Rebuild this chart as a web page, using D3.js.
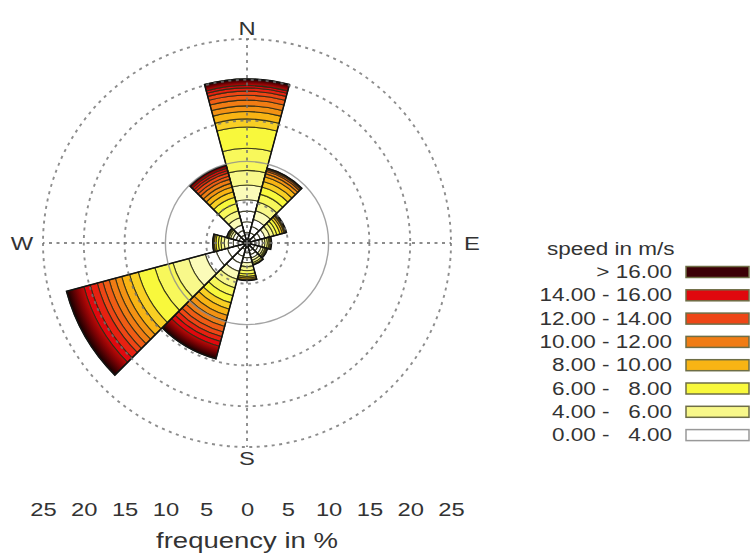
<!DOCTYPE html>
<html>
<head>
<meta charset="utf-8">
<script src="https://cdn.jsdelivr.net/npm/d3@7"></script>
<style>
body { margin: 0; background: #fff; }
text { font-family: "Liberation Sans", Arial, sans-serif; fill: #333; }
</style>
</head>
<body>
<svg id="rose" width="752" height="554"></svg>
<script>
// wind directions (sector centres, degrees) and 1 m/s speed bins
const directions = [0, 30, 60, 90, 120, 150, 180, 210, 240, 270, 300, 330];
const speedBins = ['0-1','1-2','2-3','3-4','4-5','5-6','6-7','7-8','8-9','9-10',
                   '10-11','11-12','12-13','13-14','14-15','15-16','>16'];
// legend class of each speed bin (0 = 0-4 m/s ... 7 = >16 m/s)
const binClass = [0,0,0,0,1,1,2,2,3,3,4,4,5,5,6,6,7];

// frequency in % per speed bin, one array per direction
const freq000 = [1.3,1.3,1.3,1.4,1.8,1.8,2.7,2.6,1.0,0.9,0.7,0.7,0.6,0.5,0.4,0.3,0.8];
const freq030 = [0.6,0.7,0.8,0.9,1.1,1.1,1.0,0.9,0.7,0.6,0.4,0.3,0.2,0.1,0.1,0,0];
const freq060 = [0.5,0.6,0.6,0.6,0.6,0.5,0.4,0.4,0.3,0.2,0.1,0.1,0.1,0,0,0,0];
const freq090 = [0.5,0.5,0.5,0.4,0.3,0.3,0.2,0.1,0.1,0.1,0,0,0,0,0,0,0];
const freq120 = [0.5,0.5,0.4,0.4,0.3,0.2,0.1,0.1,0.1,0,0,0,0,0,0,0,0];
const freq150 = [0.5,0.5,0.5,0.4,0.3,0.3,0.2,0.1,0,0,0,0,0,0,0,0,0];
const freq180 = [0.6,0.6,0.6,0.6,0.5,0.5,0.4,0.3,0.2,0.2,0.1,0,0,0,0,0,0];
const freq210 = [0.8,0.9,0.9,1.0,1.0,1.1,1.0,0.9,0.8,0.8,0.7,0.7,0.7,0.6,0.6,0.6,1.6];
const freq240 = [1.2,1.3,1.4,1.4,2.1,2.0,2.3,2.1,1.1,1.0,0.8,0.8,0.8,0.7,0.9,0.8,2.2];
const freq270 = [0.5,0.6,0.6,0.6,0.5,0.4,0.3,0.3,0.2,0.1,0.1,0,0,0,0,0,0];
const freq300 = [0.5,0.5,0.4,0.4,0.3,0.2,0.1,0.1,0.1,0,0,0,0,0,0,0,0];
const freq330 = [0.5,0.5,0.6,0.7,0.9,0.9,0.9,0.8,0.7,0.6,0.5,0.5,0.4,0.4,0.3,0.3,0.4];

const gridPercents = [5, 10, 15, 20, 25];
const freqTicks = [-25, -20, -15, -10, -5, 0, 5, 10, 15, 20, 25];
const compassLabels = ['N', 'E', 'S', 'W'];
const compassAngles = [0, 90, 180, 270];

// legend, top row first
const legendLabels = ['> 16.00', '14.00 - 16.00', '12.00 - 14.00', '10.00 - 12.00',
                      '\u20078.00 - 10.00', '\u20076.00 - \u20078.00', '\u20074.00 - \u20076.00',
                      '\u20070.00 - \u20074.00'];
// class colours, lowest speed first
const classColors = ['#ffffff', '#f8f88a', '#f8f83c', '#f8b414', '#f07c14', '#ee4616', '#e0080e', '#3c0006'];

const cx = 247, cy = 243;
const outerR = 204;
const sectorWidth = 30 * Math.PI / 180;
const textStretch = 'scale(1.25,1)';

const rScale = d3.scaleLinear().domain([0, 25]).range([0, outerR]);
const xScale = d3.scaleLinear().domain([-25, 25]).range([cx - outerR, cx + outerR]);

function binColor(j){
    const c = binClass[j];
    if (c === 0) return classColors[0];
    const firstOfClass = binClass.indexOf(c) === j;
    return firstOfClass ? d3.interpolateRgb(classColors[c - 1], classColors[c])(0.6) : classColors[c];
}

const svg = d3.select('#rose');
const defs = svg.append('defs');
const arc = d3.arc();

const rose = svg.append('g').attr('transform', 'translate(' + cx + ',' + cy + ')');

const sectorFreqs = [freq000, freq030, freq060, freq090, freq120, freq150,
                     freq180, freq210, freq240, freq270, freq300, freq330];

sectorFreqs.forEach(function(bins, i){
    const mid = directions[i] * Math.PI / 180;
    const a0 = mid - sectorWidth / 2, a1 = mid + sectorWidth / 2;
    let cum = 0;
    const rings = [];
    bins.forEach(function(f, j){
        if (f > 0) rings.push({bin: j, r0: cum, r1: cum + f});
        cum += f;
    });
    const total = cum;

    // radial shading of the > 16 m/s band
    const grad = defs.append('radialGradient')
        .attr('id', 'top_' + i)
        .attr('gradientUnits', 'userSpaceOnUse')
        .attr('cx', 0).attr('cy', 0).attr('r', rScale(total));
    const top = rings.find(d => d.bin === 16);
    const startOff = top ? top.r0 / total : 0.9;
    grad.append('stop').attr('offset', startOff).attr('stop-color', '#c00a08');
    grad.append('stop').attr('offset', startOff + (1 - startOff) * 0.45).attr('stop-color', '#7a0204');
    grad.append('stop').attr('offset', 1).attr('stop-color', '#140000');

    const g = rose.append('g').attr('class', 'sector');
    g.selectAll('.ring')
        .data(rings)
        .enter()
        .append('path')
        .attr('class', 'ring')
        .attr('d', d => arc({innerRadius: rScale(d.r0), outerRadius: rScale(d.r1), startAngle: a0, endAngle: a1}))
        .attr('fill', d => d.bin === 16 ? 'url(#top_' + i + ')' : binColor(d.bin))
        .attr('stroke', '#2c2c14')
        .attr('stroke-opacity', 0.85)
        .attr('stroke-width', 1.1);

    g.append('path')
        .attr('d', arc({innerRadius: 0, outerRadius: rScale(total), startAngle: a0, endAngle: a1}))
        .attr('fill', 'none')
        .attr('stroke', '#111')
        .attr('stroke-width', 1.5);
});

// grid on top of the sectors
const grid = svg.append('g').attr('transform', 'translate(' + cx + ',' + cy + ')');
grid.selectAll('.gridcircle')
    .data(gridPercents)
    .enter()
    .append('circle')
    .attr('class', 'gridcircle')
    .attr('r', d => rScale(d))
    .attr('fill', 'none')
    .attr('stroke', d => d === 10 ? '#8c8c8c' : '#707070')
    .attr('stroke-width', d => d === 10 ? 1.4 : 1.9)
    .attr('stroke-dasharray', d => d === 10 ? null : '3,4.5')
    .attr('opacity', 0.8);

grid.selectAll('.spoke')
    .data(compassAngles)
    .enter()
    .append('line')
    .attr('class', 'spoke')
    .attr('x1', 0).attr('y1', 0)
    .attr('x2', d => rScale(25) * Math.sin(d * Math.PI / 180))
    .attr('y2', d => -rScale(25) * Math.cos(d * Math.PI / 180))
    .attr('stroke', '#707070')
    .attr('stroke-width', 1.9)
    .attr('stroke-dasharray', '3,4.5')
    .attr('opacity', 0.8);

// compass letters
grid.selectAll('.compass')
    .data(compassLabels)
    .enter()
    .append('text')
    .attr('class', 'compass')
    .attr('transform', function(d, i){
        const a = compassAngles[i] * Math.PI / 180;
        const pad = 11 + 10 * Math.abs(Math.sin(a));
        const x = (rScale(25) + pad) * Math.sin(a);
        const y = -(rScale(25) + pad) * Math.cos(a);
        return 'translate(' + x + ',' + y + ') ' + textStretch;
    })
    .attr('text-anchor', 'middle')
    .attr('dy', '0.36em')
    .attr('font-size', 19)
    .text(d => d);

// frequency axis below the rose
const axis = svg.append('g')
    .attr('transform', 'translate(0,500)')
    .call(d3.axisBottom(xScale).tickValues(freqTicks).tickSize(0).tickFormat(d => Math.abs(d)));
axis.select('.domain').remove();
axis.selectAll('text')
    .attr('font-family', '"Liberation Sans", Arial, sans-serif')
    .attr('font-size', 19)
    .attr('fill', '#333')
    .attr('y', 2)
    .attr('transform', textStretch);

svg.append('text')
    .attr('transform', 'translate(' + cx + ',548) ' + textStretch)
    .attr('text-anchor', 'middle')
    .attr('font-size', 22)
    .text('frequency in %');

// legend
const legend = svg.append('g');
legend.append('text')
    .attr('transform', 'translate(547,255) ' + textStretch)
    .attr('font-size', 18)
    .text('speed in m/s');

const legendColorsTop = classColors.slice().reverse();
const rows = legend.selectAll('.legrow')
    .data(legendLabels)
    .enter()
    .append('g')
    .attr('class', 'legrow')
    .attr('transform', (d, i) => 'translate(0,' + (272 + i * 23.3) + ')');

rows.append('rect')
    .attr('x', 686).attr('y', -5.5)
    .attr('width', 63).attr('height', 11)
    .attr('fill', (d, i) => legendColorsTop[i])
    .attr('stroke', (d, i) => i === legendLabels.length - 1 ? '#999' : '#6e6e46')
    .attr('stroke-width', 1.5);

rows.append('text')
    .attr('transform', 'translate(672,6) ' + textStretch)
    .attr('text-anchor', 'end')
    .attr('font-size', 18)
    .style('white-space', 'pre')
    .text(d => d);
</script>
</body>
</html>
